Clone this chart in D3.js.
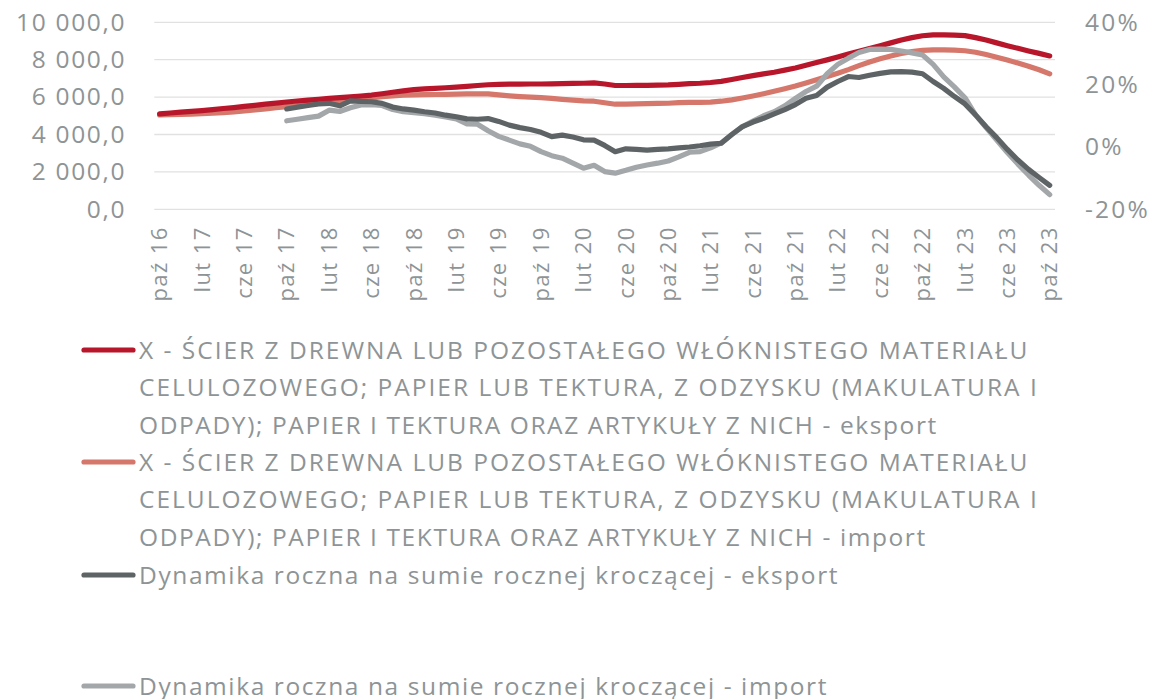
<!DOCTYPE html>
<html>
<head>
<meta charset="utf-8">
<script src="https://cdn.jsdelivr.net/npm/d3@7"></script>
<style>
  html, body { margin: 0; padding: 0; background: #ffffff; }
  svg { display: block; font-family: "Open Sans", "DejaVu Sans", sans-serif; }
</style>
</head>
<body>
<svg id="chart" width="1153" height="699"></svg>
<script>
// Monthly categories, paź 2016 – paź 2023
const months = [
  "paź 16","lis 16","gru 16","sty 17","lut 17","mar 17","kwi 17","maj 17","cze 17","lip 17","sie 17","wrz 17",
  "paź 17","lis 17","gru 17","sty 18","lut 18","mar 18","kwi 18","maj 18","cze 18","lip 18","sie 18","wrz 18",
  "paź 18","lis 18","gru 18","sty 19","lut 19","mar 19","kwi 19","maj 19","cze 19","lip 19","sie 19","wrz 19",
  "paź 19","lis 19","gru 19","sty 20","lut 20","mar 20","kwi 20","maj 20","cze 20","lip 20","sie 20","wrz 20",
  "paź 20","lis 20","gru 20","sty 21","lut 21","mar 21","kwi 21","maj 21","cze 21","lip 21","sie 21","wrz 21",
  "paź 21","lis 21","gru 21","sty 22","lut 22","mar 22","kwi 22","maj 22","cze 22","lip 22","sie 22","wrz 22",
  "paź 22","lis 22","gru 22","sty 23","lut 23","mar 23","kwi 23","maj 23","cze 23","lip 23","sie 23","wrz 23",
  "paź 23"
];

// Labels shown on the category axis (every fourth month)
const tickLabels = [
  "paź 16","lut 17","cze 17","paź 17","lut 18","cze 18","paź 18","lut 19","cze 19","paź 19","lut 20",
  "cze 20","paź 20","lut 21","cze 21","paź 21","lut 22","cze 22","paź 22","lut 23","cze 23","paź 23"
];

// Rolling annual sum, left axis
const eksport = [
  5100,5150,5200,5240,5280,5330,5390,5440,5500,5560,5620,5680,
  5740,5790,5840,5880,5930,5970,6010,6060,6110,6180,6260,6330,
  6400,6440,6470,6500,6530,6570,6620,6660,6680,6690,6690,6700,
  6700,6710,6720,6730,6740,6760,6700,6620,6620,6630,6630,6640,
  6650,6680,6720,6740,6780,6840,6940,7050,7150,7240,7330,7440,
  7560,7700,7850,7990,8140,8300,8450,8600,8750,8900,9050,9180,
  9280,9330,9330,9310,9290,9180,9050,8900,8750,8610,8470,8340,
  8200
];
const importVals = [
  5050,5060,5070,5090,5110,5140,5170,5210,5260,5310,5370,5430,
  5490,5550,5610,5660,5710,5760,5820,5880,5950,6020,6070,6100,
  6120,6130,6140,6150,6160,6170,6180,6170,6120,6070,6030,6000,
  5970,5930,5880,5840,5800,5780,5700,5620,5620,5640,5650,5660,
  5670,5700,5720,5720,5730,5780,5850,5950,6060,6180,6310,6450,
  6590,6760,6930,7100,7280,7470,7680,7880,8050,8200,8330,8430,
  8500,8530,8530,8510,8480,8400,8280,8130,7980,7820,7650,7460,
  7240
];

// Year-on-year dynamics (%), right axis, from paź 17 onwards
const dynStart = "paź 17";
const dynEksport = [
  12.2,12.8,13.3,13.8,14.0,13.2,14.8,14.6,14.5,14.0,12.8,12.2,
  11.8,11.3,10.9,10.2,9.7,9.0,8.9,9.1,8.2,7.0,6.2,5.6,
  4.7,3.3,3.8,3.2,2.3,2.2,0.5,-1.5,-0.6,-0.8,-1.0,-0.8,
  -0.6,-0.3,0.0,0.4,0.9,1.2,4.0,6.5,8.0,9.2,10.6,12.0,
  13.6,15.6,16.5,19.2,21.0,22.6,22.3,23.0,23.6,24.1,24.2,24.0,
  23.5,21.0,18.8,16.2,13.8,10.3,6.5,3.0,-0.8,-4.2,-7.2,-9.8,
  -12.3
];
const dynImport = [
  8.4,8.9,9.4,9.9,11.8,11.4,12.6,13.5,13.6,13.3,12.0,11.3,
  11.0,10.7,10.2,9.6,9.0,7.4,7.3,5.2,3.4,2.2,1.0,0.2,
  -1.5,-2.8,-3.6,-5.2,-6.8,-5.9,-7.9,-8.4,-7.5,-6.5,-5.8,-5.2,
  -4.5,-3.2,-1.7,-1.5,-0.3,1.3,4.0,6.5,8.3,10.0,11.3,13.2,
  15.6,17.8,19.5,23.5,26.5,28.5,30.3,31.3,31.4,31.3,30.8,30.2,
  29.5,26.5,22.5,19.3,15.8,10.3,6.2,2.2,-1.8,-5.5,-9.0,-12.3,
  -15.3
];

const leftTicks = [0, 2000, 4000, 6000, 8000, 10000];
const rightTicks = [-20, 0, 20, 40];

const seriesNames = [
  "X - ŚCIER Z DREWNA LUB POZOSTAŁEGO WŁÓKNISTEGO MATERIAŁU CELULOZOWEGO; PAPIER LUB TEKTURA, Z ODZYSKU (MAKULATURA I ODPADY); PAPIER I TEKTURA ORAZ ARTYKUŁY Z NICH - eksport",
  "X - ŚCIER Z DREWNA LUB POZOSTAŁEGO WŁÓKNISTEGO MATERIAŁU CELULOZOWEGO; PAPIER LUB TEKTURA, Z ODZYSKU (MAKULATURA I ODPADY); PAPIER I TEKTURA ORAZ ARTYKUŁY Z NICH - import",
  "Dynamika roczna na sumie rocznej kroczącej - eksport",
  "Dynamika roczna na sumie rocznej kroczącej - import"
];
const colors = ["#B8172B", "#D6776B", "#5E6466", "#A4A7A9"];

const svg = d3.select("#chart");
const textColor = "#8E9496";
const fontFamily = "'Open Sans', sans-serif";
const plot = { left: 154.3, right: 1055, top: 22.3, bottom: 209.3 };

const x = d3.scaleBand().domain(months).range([plot.left, plot.right]);
const xc = m => x(m) + x.bandwidth() / 2;
const yL = d3.scaleLinear().domain([0, 10000]).range([plot.bottom, plot.top]);
const yR = d3.scaleLinear().domain([-20, 40]).range([plot.bottom, plot.top]);

// Gridlines
svg.append("g")
  .selectAll("line").data(leftTicks).join("line")
  .attr("x1", plot.left).attr("x2", plot.right)
  .attr("y1", d => yL(d)).attr("y2", d => yL(d))
  .attr("stroke", "#E1E1E1").attr("stroke-width", 1.3);

const fmtLeft = d => d3.format(",.1f")(d).replace(/,/g, " ").replace(".", ",");

function styleText(sel, size, spacing) {
  sel.attr("fill", textColor)
    .style("font-size", size + "px")
    .style("font-family", fontFamily)
    .style("letter-spacing", spacing + "px");
}

// Left axis
const gl = svg.append("g").attr("transform", `translate(${plot.left},0)`)
  .call(d3.axisLeft(yL).tickValues(leftTicks).tickFormat(fmtLeft).tickSize(0).tickPadding(28));
gl.select(".domain").remove();
styleText(gl.selectAll("text"), 24.5, 1.7);

// Right axis
const gr = svg.append("g").attr("transform", `translate(${plot.right},0)`)
  .call(d3.axisRight(yR).tickValues(rightTicks).tickFormat(d => d + "%").tickSize(0).tickPadding(30));
gr.select(".domain").remove();
styleText(gr.selectAll("text"), 24.5, 2.2);

// Category axis, vertical labels
const gx = svg.append("g").attr("transform", `translate(0,${plot.bottom})`)
  .call(d3.axisBottom(x).tickValues(tickLabels).tickSize(0).tickPadding(0));
gx.select(".domain").remove();
styleText(gx.selectAll("text"), 22, 1.4);
gx.selectAll("text")
  .attr("transform", "rotate(-90)")
  .attr("text-anchor", "end")
  .attr("x", -17).attr("y", 0).attr("dy", "0.35em");

// Lines
const lineL = d3.line().x((d, i) => xc(months[i])).y(d => yL(d)).curve(d3.curveLinear);
const startIdx = months.indexOf(dynStart);
const lineR = d3.line().x((d, i) => xc(months[startIdx + i])).y(d => yR(d)).curve(d3.curveLinear);

const lines = [
  { data: eksport, gen: lineL, color: colors[0] },
  { data: importVals, gen: lineL, color: colors[1] },
  { data: dynEksport, gen: lineR, color: colors[2] },
  { data: dynImport, gen: lineR, color: colors[3] }
];
// draw order: import beneath export, values beneath dynamics
[lines[1], lines[0], lines[3], lines[2]].forEach(s => {
  svg.append("path").datum(s.data)
    .attr("d", s.gen)
    .attr("fill", "none")
    .attr("stroke", s.color)
    .attr("stroke-width", 5.2)
    .attr("stroke-linejoin", "round")
    .attr("stroke-linecap", "round");
});

// Legend
const legendRows = [
  { color: colors[0], y: 350, lines: [
    "X - ŚCIER Z DREWNA LUB POZOSTAŁEGO WŁÓKNISTEGO MATERIAŁU",
    "CELULOZOWEGO; PAPIER LUB TEKTURA, Z ODZYSKU (MAKULATURA I",
    "ODPADY); PAPIER I TEKTURA ORAZ ARTYKUŁY Z NICH - eksport"] },
  { color: colors[1], y: 462, lines: [
    "X - ŚCIER Z DREWNA LUB POZOSTAŁEGO WŁÓKNISTEGO MATERIAŁU",
    "CELULOZOWEGO; PAPIER LUB TEKTURA, Z ODZYSKU (MAKULATURA I",
    "ODPADY); PAPIER I TEKTURA ORAZ ARTYKUŁY Z NICH - import"] },
  { color: colors[2], y: 575, lines: [seriesNames[2]] },
  { color: colors[3], y: 686, lines: [seriesNames[3]] }
];
const lg = svg.append("g");
legendRows.forEach(r => {
  lg.append("line")
    .attr("x1", 84).attr("x2", 133).attr("y1", r.y).attr("y2", r.y)
    .attr("stroke", r.color).attr("stroke-width", 5.2).attr("stroke-linecap", "round");
  r.lines.forEach((t, k) => {
    const tx = lg.append("text")
      .attr("x", 139).attr("y", r.y + k * 37.5).attr("dy", "0.35em")
      .text(t);
    styleText(tx, 24.5, /^[A-ZĄĆĘŁŃÓŚŹŻ(]/.test(t) && t === t.toUpperCase() ? 2.0 : 1.6);
  });
});
</script>
</body>
</html>
